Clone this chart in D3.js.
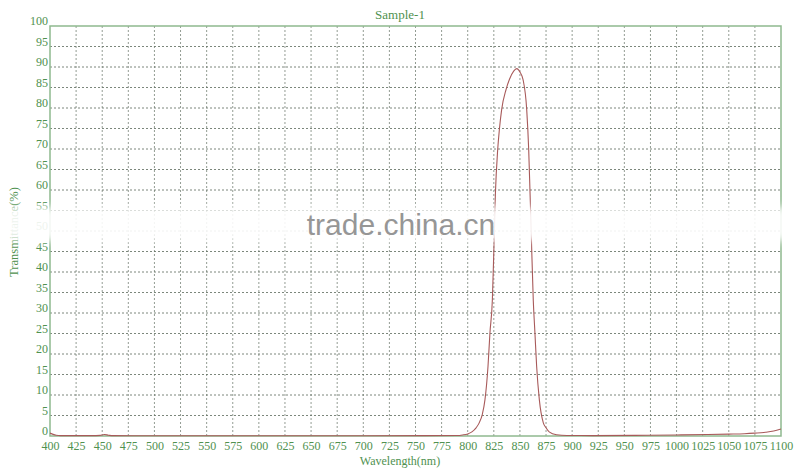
<!DOCTYPE html>
<html><head><meta charset="utf-8">
<script src="https://cdn.jsdelivr.net/npm/d3@7/dist/d3.min.js"></script>
<style>html,body{margin:0;padding:0;background:#fff;}</style>
</head><body><svg id="c" width="800" height="470"></svg>
<script>
const title = "Sample-1";
const xLabel = "Wavelength(nm)";
const yLabel = "Transmittance(%)";
const xTicks = d3.range(400, 1101, 25);
const yTicks = d3.range(0, 101, 5);
const wavelengths = [400,403,406,410,420,440,448,452,456,460,480,520,600,700,760,790,795,800,804,808,811,814,816.5,819.4,821.3,823.6,825,826.5,828.7,830.3,832.5,836.7,840,844,847,850,853,856.5,858.4,859.6,861,862.8,864.4,866,868.6,872.4,875,878,885,895,920,960,1000,1030,1050,1065,1075,1085,1093,1100];
const transmission = [0.7,0.4,0.2,0.1,0.1,0.1,0.15,0.35,0.2,0.08,0.05,0.05,0.05,0.05,0.08,0.12,0.25,0.5,1.0,2.0,3.2,5.3,8.8,16.9,25.2,33.2,45,59,69.8,74.7,79.6,84.5,87,89,89.6,88.8,86.9,79.6,69.8,60,48,33,25,17,8.8,3.2,2.0,1.0,0.3,0.12,0.1,0.15,0.25,0.35,0.45,0.55,0.7,0.9,1.2,1.7];
const watermark = "trade.china.cn";

const svg = d3.select("#c");
const m = {l:50, r:19, t:26, b:34};
const W = 800, H = 470;
const x = d3.scaleLinear().domain([400,1100]).range([m.l, W-m.r]);
const y = d3.scaleLinear().domain([0,100]).range([H-m.b, m.t]);
const green = "#4f914f";
const gridC = "#667366";

// grid
svg.append("g").selectAll("line.v").data(xTicks.slice(1,-1)).join("line")
  .attr("x1",d=>x(d)).attr("x2",d=>x(d)).attr("y1",y(0)).attr("y2",y(100))
  .attr("stroke",gridC).attr("stroke-width",1).attr("stroke-dasharray","2,2").attr("opacity",0.7);
svg.append("g").selectAll("line.h").data(yTicks.slice(1,-1)).join("line")
  .attr("x1",x(400)).attr("x2",x(1100)).attr("y1",d=>y(d)).attr("y2",d=>y(d))
  .attr("stroke",gridC).attr("stroke-width",1).attr("stroke-dasharray","2,2").attr("opacity",0.85);

// frame
svg.append("rect").attr("x",x(400)).attr("y",y(100)).attr("width",x(1100)-x(400)).attr("height",y(0)-y(100))
  .attr("fill","none").attr("stroke","#8fb98f").attr("stroke-width",1.5);

// axes labels via d3 axes
const xAxis = d3.axisBottom(x).tickValues(xTicks).tickSize(0).tickPadding(5).tickFormat(d3.format("d"));
const gx = svg.append("g").attr("transform",`translate(0,${y(0)})`).call(xAxis);
gx.select(".domain").remove();
gx.selectAll("text").attr("fill",green).attr("font-family","'Liberation Serif', serif").attr("font-size",12);

const yAxis = d3.axisLeft(y).tickValues(yTicks).tickSize(0).tickPadding(2).tickFormat(d3.format("d"));
const gy = svg.append("g").attr("transform",`translate(${x(400)},0)`).call(yAxis);
gy.select(".domain").remove();
gy.selectAll("text").attr("fill",green).attr("font-family","'Liberation Serif', serif").attr("font-size",12).attr("dy","-0.1em");

// curve
const line = d3.line().x((d,i)=>x(wavelengths[i])).y(d=>y(d)).curve(d3.curveMonotoneX);
svg.append("path").datum(transmission).attr("d",line)
  .attr("fill","none").attr("stroke","#a85a5a").attr("stroke-width",1.1);

// titles
svg.append("text").attr("x",400).attr("y",19).attr("text-anchor","middle")
  .attr("fill",green).attr("font-family","'Liberation Serif', serif").attr("font-size",13).text(title);
svg.append("text").attr("x",400).attr("y",465).attr("text-anchor","middle")
  .attr("fill",green).attr("font-family","'Liberation Serif', serif").attr("font-size",12).text(xLabel);
svg.append("text").attr("transform",`translate(18,232) rotate(-90)`).attr("text-anchor","middle")
  .attr("fill",green).attr("font-family","'Liberation Serif', serif").attr("font-size",12.5).text(yLabel);

// watermark band
const defs = svg.append("defs");
defs.append("filter").attr("id","blur").attr("x","-5%").attr("y","-50%").attr("width","110%").attr("height","200%")
  .append("feGaussianBlur").attr("stdDeviation",4);
svg.append("rect").attr("x",-10).attr("y",207).attr("width",W+20).attr("height",34)
  .attr("fill","#fff").attr("opacity",0.9).attr("filter","url(#blur)");
svg.append("text").attr("x",401).attr("y",235).attr("text-anchor","middle")
  .attr("fill","#969696").attr("font-family","'Liberation Sans', Arial, sans-serif").attr("font-size",30).text(watermark);
</script></body></html>
